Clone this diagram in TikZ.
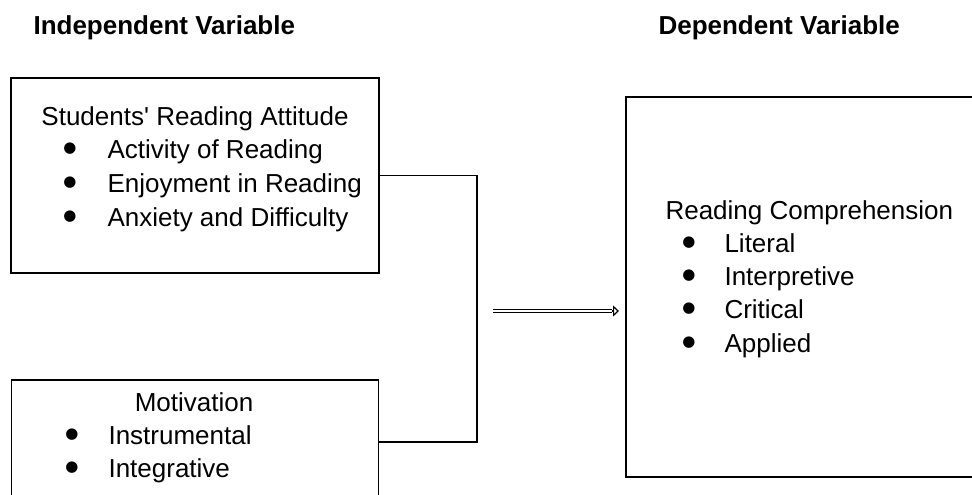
\documentclass[tikz,border=0pt]{standalone}
\usepackage{fontspec}
\setmainfont{Liberation Sans}
\newfontfamily\bulletfont{DejaVu Sans}
\usetikzlibrary{arrows.meta}

\begin{document}
\begin{tikzpicture}[x=1pt, y=-1pt,
		box/.style={draw, line width=1.4pt, rectangle, inner sep=0pt},
		head/.style={font=\bfseries\fontsize{26}{30}\selectfont, anchor=base west},
		title/.style={font=\fontsize{26}{30}\selectfont, anchor=base},
		item/.style={font=\fontsize{26}{30}\selectfont, anchor=base west},
		bullet/.style={font=\bulletfont\fontsize{15}{18}\selectfont, anchor=base, inner sep=0pt}]
		\useasboundingbox (0,0) rectangle (972,495);
		\clip (0,0) rectangle (972,495);

		\node[head] (indep) at (30, 35) {Independent Variable};
		\node[head] (dep) at (655, 35) {Dependent Variable};

		\node[box, minimum width=368, minimum height=195] (attitude) at (195, 175.5) {};
		\node[box, minimum width=367, minimum height=124] (motivation) at (195, 442) {};
		\node[box, minimum width=384, minimum height=380] (comprehension) at (818, 287) {};

		\node[title] (attitude-title) at (195, 125) {Students\textquotesingle\ Reading Attitude};
		\foreach \txt [count=\i] in {Activity of Reading, Enjoyment in Reading, Anxiety and Difficulty} {
			\node[bullet] (attitude-b\i) at (70, 119 + 33.7*\i) {●};
			\node[item] (attitude-\i) at (104, 125 + 33.7*\i) {\txt};
		}

		\node[title] (motivation-title) at (194, 411) {Motivation};
		\foreach \txt [count=\i] in {Instrumental, Integrative} {
			\node[bullet] (motivation-b\i) at (72, 405 + 33*\i) {●};
			\node[item] (motivation-\i) at (105, 411 + 33*\i) {\txt};
		}

		\node[item] (comprehension-title) at (662, 219) {Reading Comprehension};
		\foreach \txt [count=\i] in {Literal, Interpretive, Critical, Applied} {
			\node[bullet] (comprehension-b\i) at (689, 213 + 33.3*\i) {●};
			\node[item] (comprehension-\i) at (721, 219 + 33.3*\i) {\txt};
		}

		\coordinate (join) at (477, 442);
		\coordinate (arrow start) at (493, 311);
		\coordinate (arrow head) at (612, 311);
		\coordinate (arrow end) at (619, 311);

		\draw[line width=1.3pt] (attitude.east) -| (join) -- (motivation.east);
		% hollow arrow: double shaft, open head
		\draw[line width=1.2pt, double, double distance=2.4pt] (arrow start) -- (arrow head);
		\draw[line width=1.2pt, -{Triangle[open, length=6pt, width=11pt]}] (arrow head) -- (arrow end);
	\end{tikzpicture}
\end{document}
